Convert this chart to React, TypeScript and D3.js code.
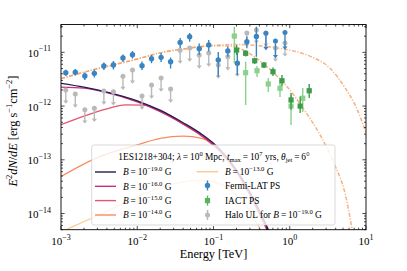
import React from "react";
import * as d3 from "d3";

const WIDTH = 407;
const HEIGHT = 271;
const PLOT = { left: 61, right: 366, top: 24.5, bottom: 229.7 };
const FONT = "'Liberation Serif', 'DejaVu Serif', serif";

// Fermi-LAT point source (TeV, erg s^-1 cm^-2)
const fermiE = [1.155e-3, 1.54e-3, 2.054e-3, 2.738e-3, 3.652e-3, 4.87e-3, 6.494e-3, 8.66e-3, 1.155e-2, 1.54e-2, 2.054e-2,
    2.738e-2, 3.652e-2, 4.87e-2, 6.494e-2, 8.66e-2, 0.1155, 0.154, 0.2054, 0.2738, 0.3652];
const fermiF = [4.18e-12, 4.25e-12, 3.63e-12, 4.07e-12, 5.56e-12, 5.8e-12, 7.83e-12, 9.0e-12, 5.63e-12, 7.6e-12, 8.07e-12,
    6.68e-12, 1.53e-11, 1.95e-11, 1.17e-11, 1.37e-11, 7.2e-12, 1.06e-11, 6.3e-12, 1.58e-11, 1.97e-11];
const fermiHi = [4.75e-12, 4.9e-12, 4.2e-12, 4.8e-12, 6.45e-12, 6.9e-12, 9.1e-12, 1.06e-11, 6.75e-12, 8.9e-12, 9.7e-12,
    8.0e-12, 1.85e-11, 2.29e-11, 1.46e-11, 1.69e-11, 1.01e-11, 1.28e-11, 9.7e-12, 1.95e-11, 3.0e-11];
const fermiLo = [3.67e-12, 3.7e-12, 3.05e-12, 3.4e-12, 4.7e-12, 4.8e-12, 6.6e-12, 7.7e-12, 4.7e-12, 6.3e-12, 6.6e-12,
    5.0e-12, 1.2e-11, 1.58e-11, 8.9e-12, 1.04e-11, 3.5e-12, 8.3e-12, 3.8e-12, 1.19e-11, 8.3e-12];
const fermiUlE = [0.487, 0.6494, 0.866];
const fermiUlF = [2.28e-11, 1.62e-11, 2.33e-11];

// halo upper limits for B = 1e-19 G
const haloE = [1.155e-3, 1.54e-3, 2.054e-3, 2.738e-3, 3.652e-3, 4.87e-3, 6.494e-3, 8.66e-3, 1.155e-2, 1.54e-2, 2.054e-2,
    2.738e-2, 3.652e-2, 4.87e-2, 6.494e-2, 8.66e-2, 0.1155, 0.154, 0.2054, 0.2738, 0.3652, 0.487, 0.6494, 0.866];
const haloF = [1.99e-12, 1.68e-12, 8.5e-13, 9.1e-13, 1.91e-12, 1.85e-12, 3.6e-12, 4.7e-12, 1.54e-12, 2.47e-12, 3.33e-12,
    2.08e-12, 1.1e-11, 1.2e-11, 8.9e-12, 9.7e-12, 5.8e-12, 8.3e-12, 6.3e-12, 2.3e-11, 2.6e-11, 2.3e-11, 1.2e-11, 1.5e-11];

// IACT point source, two data sets
const iactE = [0.201, 0.264, 0.347, 0.459, 0.603, 0.791, 1.04, 1.37, 1.8];
const iactF = [1.1e-11, 9.6e-12, 6.98e-12, 5.8e-12, 4.36e-12, 2.96e-12, 1.3e-12, 1.0e-12, 1.93e-12];
const iactHi = [1.37e-11, 1.09e-11, 7.9e-12, 6.6e-12, 5.2e-12, 3.78e-12, 1.75e-12, 1.5e-12, 2.58e-12];
const iactLo = [8.9e-12, 8.4e-12, 6.1e-12, 5.1e-12, 3.63e-12, 2.37e-12, 8.5e-13, 7.45e-13, 1.41e-12];
const iact2E = [0.1875, 0.264, 0.372, 0.523, 0.745, 1.04, 1.48];
const iact2F = [2.01e-11, 4.18e-12, 4.55e-12, 2.58e-12, 2.14e-12, 1.0e-12, 1.4e-12];
const iact2Hi = [2.99e-11, 6.68e-12, 5.56e-12, 3.33e-12, 3.05e-12, 1.61e-12, 2.17e-12];
const iact2Lo = [6.25e-12, 1.05e-12, 3.47e-12, 1.83e-12, 1.48e-12, 4.45e-13, 7.8e-13];

// source spectra (intrinsic and absorbed)
const intrinsicE = [1e-3, 3.24e-3, 1e-2, 1.88e-2, 4.64e-2, 0.122, 0.22, 0.5, 1.0, 1.83, 3.35, 5.3, 7.2, 10];
const intrinsicF = [3.26e-12, 5.1e-12, 7.5e-12, 9.6e-12, 1.19e-11, 1.37e-11, 1.4e-11, 1.28e-11, 1.1e-11, 8.5e-12,
    5.1e-12, 2.2e-12, 1.05e-12, 3.2e-13];
const absorbedE = [1e-3, 3.24e-3, 1e-2, 1.88e-2, 4.64e-2, 0.1, 0.165, 0.26, 0.41, 0.64, 1.0, 1.58, 2.5, 3.9, 5.3, 6.6, 8];
const absorbedF = [3.26e-12, 5.1e-12, 7.5e-12, 9.6e-12, 1.19e-11, 1.33e-11, 1.31e-11, 1.06e-11, 6.9e-12, 3.95e-12,
    2.0e-12, 8.1e-13, 2.9e-13, 8.0e-14, 2.4e-14, 5e-15, 1e-15];

// cascade spectra for the different field strengths
const cascadeE = [1e-3, 2e-3, 4e-3, 1e-2, 2e-2, 4e-2, 7e-2, 0.12, 0.2, 0.3, 0.45, 0.7];
const cascadeB19 = [2.65e-12, 2.25e-12, 1.82e-12, 1.25e-12, 8.3e-13, 4.9e-13, 3.0e-13, 1.6e-13, 6.5e-14, 2.5e-14, 8e-15, 2e-15];
const cascadeB16 = [2.25e-12, 2.15e-12, 1.78e-12, 1.2e-12, 7.9e-13, 4.65e-13, 2.85e-13, 1.5e-13, 6.1e-14, 2.3e-14, 7.3e-15, 1.8e-15];
const cascadeB15E = [1e-3, 2e-3, 4e-3, 7e-3, 1.2e-2, 2e-2, 4e-2, 7e-2, 0.12, 0.2, 0.3, 0.45, 0.7];
const cascadeB15 = [4.5e-13, 6.5e-13, 8.9e-13, 1.05e-12, 1.04e-12, 8.4e-13, 4.6e-13, 2.75e-13, 1.45e-13, 5.9e-14, 2.2e-14,
    7e-15, 1.7e-15];
const cascadeB14E = [1e-3, 3.2e-3, 1e-2, 2e-2, 4e-2, 7e-2, 0.12, 0.2, 0.3, 0.45, 0.7];
const cascadeB14 = [4.9e-14, 1.15e-13, 1.9e-13, 2.5e-13, 2.75e-13, 2.5e-13, 1.5e-13, 6.2e-14, 2.3e-14, 7e-15, 1.6e-15];
const cascadeB13E = [1e-3, 1.5e-3, 3.2e-3, 1e-2, 2e-2, 4e-2, 7e-2, 0.12, 0.2, 0.3, 0.45];
const cascadeB13 = [4.5e-15, 5.9e-15, 9.5e-15, 2.05e-14, 3.0e-14, 3.9e-14, 4.2e-14, 3.6e-14, 2.2e-14, 1.1e-14, 4e-15];

const cascades = [
    { label: "\u221219.0", e: cascadeE, f: cascadeB19, color: "#241a4f" },
    { label: "\u221216.0", e: cascadeE, f: cascadeB16, color: "#c7307a" },
    { label: "\u221215.0", e: cascadeB15E, f: cascadeB15, color: "#e4566f" },
    { label: "\u221214.0", e: cascadeB14E, f: cascadeB14, color: "#f98b5f" },
    { label: "\u221213.0", e: cascadeB13E, f: cascadeB13, color: "#fdc98f" },
];

const FERMI = "#3a84c1";
const IACT = "#3d9b4a";
const IACT_LIGHT = "#8bd18b";
const HALO = "#b9b9b9";
const SOURCE = "#f5a56b";

const EQ = "\u2009=\u2009";
const LEGEND_FS = 9.4;
const LEGEND_SUP = 6.6;

const x = d3.scaleLog().domain([1e-3, 10]).range([PLOT.left, PLOT.right]);
const y = d3.scaleLog().domain([5e-15, 3.3e-11]).range([PLOT.bottom, PLOT.top]);

const line = d3.line<[number, number]>()
    .x((d) => x(d[0]))
    .y((d) => y(d[1]))
    .curve(d3.curveMonotoneX);

const pairs = (e: number[], f: number[]): [number, number][] => e.map((v, i) => [v, f[i]]);

const isMajor = (v: number): boolean => Math.abs(Math.log10(v) - Math.round(Math.log10(v))) < 1e-6;

const supText = (exp: number): string => (exp < 0 ? "\u2212" + -exp : String(exp));

const caret = (cx: number, cy: number): string => `M${cx - 2.6},${cy - 3.2}L${cx + 2.6},${cy - 3.2}L${cx},${cy}Z`;

const ErrorBars = ({ e, f, lo, hi, color, square, width = 1.4 }: {
    e: number[]; f: number[]; lo: number[]; hi: number[]; color: string; square?: boolean; width?: number;
}) => (
    <g>
        {e.map((v, i) => (
            <g key={i}>
                <line x1={x(v)} x2={x(v)} y1={y(lo[i])} y2={y(hi[i])} stroke={color} strokeWidth={width} />
                {square
                    ? <rect x={x(v) - 2.6} y={y(f[i]) - 2.6} width={5.2} height={5.2} fill={color} />
                    : <circle cx={x(v)} cy={y(f[i])} r={2.7} fill={color} />}
            </g>
        ))}
    </g>
);

const UpperLimits = ({ e, f, color, drop }: { e: number[]; f: number[]; color: string; drop: number }) => (
    <g>
        {e.map((v, i) => {
            const top = y(f[i]);
            const bottom = y(f[i] * drop);
            return (
                <g key={i}>
                    <line x1={x(v)} x2={x(v)} y1={top} y2={bottom} stroke={color} strokeWidth={1.4} />
                    <path d={caret(x(v), bottom + 1)} fill={color} />
                    <circle cx={x(v)} cy={top} r={2.5} fill={color} />
                </g>
            );
        })}
    </g>
);

const BLabel = ({ px, py, exp }: { px: number; py: number; exp: string }) => (
    <text x={px} y={py} fontSize={LEGEND_FS}>
        <tspan fontStyle="italic">B</tspan>
        {EQ + "10"}
        <tspan dy={-3.9} fontSize={LEGEND_SUP}>{exp}</tspan>
        <tspan dy={3.9}>{" G"}</tspan>
    </text>
);

export default function App() {
    const ticksX = x.ticks();
    const ticksY = y.ticks();

    const legendRows1 = [172, 186.3, 200.6, 215];
    const legendRows2 = [171.7, 185.5, 200.6, 215];

    return (
        <svg width={WIDTH} height={HEIGHT} style={{ position: "absolute", left: 0, top: 0, background: "#fff" }}
            fontFamily={FONT}>
            <defs>
                <clipPath id="plotClip">
                    <rect x={PLOT.left} y={PLOT.top} width={PLOT.right - PLOT.left} height={PLOT.bottom - PLOT.top} />
                </clipPath>
            </defs>

            <g clipPath="url(#plotClip)">
                {[pairs(intrinsicE, intrinsicF), pairs(absorbedE, absorbedF)].map((d, i) => (
                    <path key={i} d={line(d) ?? ""} fill="none" stroke={SOURCE} strokeWidth={1.5}
                        strokeDasharray="4 1.6 1.2 1.6" opacity={0.85} />
                ))}
                {cascades.slice().reverse().map((c) => (
                    <path key={c.label} d={line(pairs(c.e, c.f)) ?? ""} fill="none" stroke={c.color} strokeWidth={1.3} />
                ))}
                <UpperLimits e={haloE} f={haloF} color={HALO} drop={0.58} />
                <ErrorBars e={fermiE} f={fermiF} lo={fermiLo} hi={fermiHi} color={FERMI} />
                <UpperLimits e={fermiUlE} f={fermiUlF} color={FERMI} drop={0.5} />
                <ErrorBars e={iact2E} f={iact2F} lo={iact2Lo} hi={iact2Hi} color={IACT_LIGHT} square />
                <ErrorBars e={iactE} f={iactF} lo={iactLo} hi={iactHi} color={IACT} square />
            </g>

            {/* frame and ticks */}
            <rect x={PLOT.left} y={PLOT.top} width={PLOT.right - PLOT.left} height={PLOT.bottom - PLOT.top}
                fill="none" stroke="#000" strokeWidth={0.9} />
            {ticksX.map((t) => {
                const len = isMajor(t) ? 3.6 : 2;
                return (
                    <g key={"x" + t} stroke="#000" strokeWidth={0.7}>
                        <line x1={x(t)} x2={x(t)} y1={PLOT.bottom} y2={PLOT.bottom - len} />
                        <line x1={x(t)} x2={x(t)} y1={PLOT.top} y2={PLOT.top + len} />
                    </g>
                );
            })}
            {ticksY.map((t) => {
                const len = isMajor(t) ? 3.6 : 2;
                return (
                    <g key={"y" + t} stroke="#000" strokeWidth={0.7}>
                        <line x1={PLOT.left} x2={PLOT.left + len} y1={y(t)} y2={y(t)} />
                        <line x1={PLOT.right} x2={PLOT.right - len} y1={y(t)} y2={y(t)} />
                    </g>
                );
            })}
            {ticksX.filter(isMajor).map((t) => (
                <text key={"xl" + t} x={x(t)} y={245} fontSize={11} textAnchor="middle">
                    10<tspan dy={-5.5} fontSize={8}>{supText(Math.round(Math.log10(t)))}</tspan>
                </text>
            ))}
            {ticksY.filter(isMajor).map((t) => (
                <text key={"yl" + t} x={51} y={y(t) + 4.5} fontSize={11} textAnchor="end">
                    10<tspan dy={-5.5} fontSize={8}>{supText(Math.round(Math.log10(t)))}</tspan>
                </text>
            ))}

            <text x={(PLOT.left + PLOT.right) / 2} y={258} fontSize={12.3} textAnchor="middle">Energy [TeV]</text>
            <text transform="translate(17,131) rotate(-90)" fontSize={12.3} textAnchor="middle">
                <tspan fontStyle="italic">E</tspan>
                <tspan dy={-5} fontSize={8.5}>2</tspan>
                <tspan dy={5} fontStyle="italic">dN</tspan>
                <tspan>/</tspan>
                <tspan fontStyle="italic">dE</tspan>
                <tspan>{" [erg s"}</tspan>
                <tspan dy={-5} fontSize={8.5}>{"\u22121"}</tspan>
                <tspan dy={5}>cm</tspan>
                <tspan dy={-5} fontSize={8.5}>{"\u22122"}</tspan>
                <tspan dy={5}>]</tspan>
            </text>

            {/* legend */}
            <g>
                <rect x={91.7} y={145} width={243.3} height={80} rx={2.5} fill="#fff" fillOpacity={0.8}
                    stroke="#cfcfcf" strokeWidth={0.8} />
                <text x={214} y={159.5} fontSize={LEGEND_FS} textAnchor="middle">
                    {"1ES1218+304; "}
                    <tspan fontStyle="italic">{"\u03bb"}</tspan>
                    {EQ + "10"}
                    <tspan dy={-3.9} fontSize={LEGEND_SUP}>0</tspan>
                    <tspan dy={3.9}>{" Mpc, "}</tspan>
                    <tspan fontStyle="italic">t</tspan>
                    <tspan dy={2} fontSize={LEGEND_SUP}>max</tspan>
                    <tspan dy={-2}>{EQ + "10"}</tspan>
                    <tspan dy={-3.9} fontSize={LEGEND_SUP}>7</tspan>
                    <tspan dy={3.9}>{" yrs, "}</tspan>
                    <tspan fontStyle="italic">{"\u03b8"}</tspan>
                    <tspan dy={2} fontSize={LEGEND_SUP}>jet</tspan>
                    <tspan dy={-2}>{EQ + "6\u00b0"}</tspan>
                </text>
                {cascades.slice(0, 4).map((c, i) => (
                    <g key={c.label}>
                        <line x1={95} x2={116} y1={legendRows1[i]} y2={legendRows1[i]} stroke={c.color} strokeWidth={1.4} />
                        <BLabel px={123} py={legendRows1[i] + 3.3} exp={c.label} />
                    </g>
                ))}
                <line x1={196.7} x2={218.3} y1={legendRows2[0]} y2={legendRows2[0]} stroke={cascades[4].color}
                    strokeWidth={1.4} />
                <BLabel px={225} py={legendRows2[0] + 3.3} exp={cascades[4].label} />

                <line x1={207.5} x2={207.5} y1={legendRows2[1] - 5} y2={legendRows2[1] + 5} stroke={FERMI} strokeWidth={1.4} />
                <circle cx={207.5} cy={legendRows2[1]} r={2.7} fill={FERMI} />
                <text x={225} y={legendRows2[1] + 3.3} fontSize={LEGEND_FS}>Fermi-LAT PS</text>

                <line x1={207.5} x2={207.5} y1={legendRows2[2] - 5} y2={legendRows2[2] + 5} stroke="#5cb35f" strokeWidth={1.4} />
                <rect x={204.9} y={legendRows2[2] - 2.6} width={5.2} height={5.2} fill="#5cb35f" />
                <text x={225} y={legendRows2[2] + 3.3} fontSize={LEGEND_FS}>IACT PS</text>

                <line x1={207.5} x2={207.5} y1={legendRows2[3] - 5} y2={legendRows2[3] + 5} stroke={HALO} strokeWidth={1.4} />
                <circle cx={207.5} cy={legendRows2[3]} r={2.5} fill={HALO} />
                <text x={225} y={legendRows2[3] + 3.3} fontSize={LEGEND_FS}>
                    {"Halo UL for "}
                    <tspan fontStyle="italic">B</tspan>
                    {EQ + "10"}
                    <tspan dy={-3.9} fontSize={LEGEND_SUP}>{"\u221219.0"}</tspan>
                    <tspan dy={3.9}>{" G"}</tspan>
                </text>
            </g>
        </svg>
    );
}
